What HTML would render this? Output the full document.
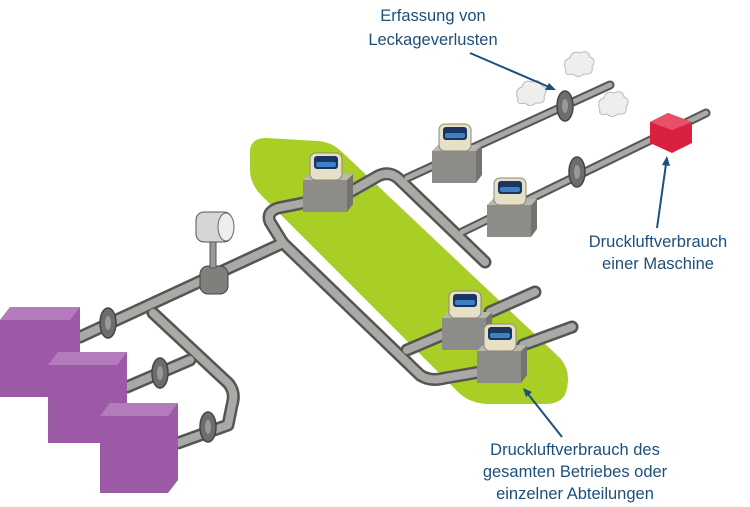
<!DOCTYPE html>
<html><head><meta charset="utf-8"><style>
html,body{margin:0;padding:0;background:#fff;}
svg{display:block}
text{font-family:"Liberation Sans",sans-serif;fill:#1d4f7c;font-size:16.5px;text-anchor:middle}
</style></head><body>
<svg width="750" height="507" viewBox="0 0 750 507" xmlns="http://www.w3.org/2000/svg">
<defs>
<g id="m">
  <rect x="0" y="28" width="44" height="32" fill="#8d8c88"/>
  <polygon points="44,28 50,22 50,52 44,60" fill="#74736e"/>
  <polygon points="0,28 6,22 50,22 44,28" fill="#b9b7ae"/>
  <rect x="7" y="1" width="32" height="27" rx="6" fill="#e6e0c6" stroke="#8a8878"/>
  <rect x="11" y="4" width="24" height="13" rx="3" fill="#1a355e"/>
  <rect x="13" y="10" width="20" height="5" rx="2" fill="#3f7fc6"/>
</g>
<g id="f"><ellipse cx="0" cy="0" rx="8" ry="15" fill="#6d6d70" stroke="#444" stroke-width="1.5"/><ellipse cx="0" cy="0" rx="3" ry="7" fill="#999"/></g>
<g id="c"><path d="M-12,4 q-4,-10 4,-12 q2,-8 10,-5 q8,-4 10,4 q7,3 2,10 q2,8 -8,7 q-6,5 -11,0 q-9,2 -7,-4z" fill="#eee" stroke="#bbb"/></g>
</defs>
<path d="M250,152 Q250,138 266,138 L318,141 Q332,142 342,152 L560,358 Q572,372 566,392 Q562,404 545,404 L490,404 Q470,404 458,392 L262,196 Q250,184 250,170 Z" fill="#a9cf26"/>
<g fill="none" stroke-linecap="round" stroke-linejoin="round">
<g stroke="#555" stroke-width="13">
<path d="M80,337 L283,243"/>
<path d="M153,313 L228,383 Q236,392 232,405 L228,425 L178,443"/>
<path d="M127,387 L190,360"/>
<path d="M283,243 L270,222 Q266,212 278,208 L308,202"/>
<path d="M350,192 L378,176 Q390,170 400,180 L485,262"/>
<path d="M283,243 L420,375 Q430,382 445,378 L480,372"/>
<path d="M407,350 L447,333"/>
<path d="M490,312 L535,292"/>
<path d="M523,345 L572,327"/>
</g>
<g stroke="#555" stroke-width="9">
<path d="M407,178 L610,85"/>
<path d="M462,232 L706,113"/>
</g>
<g stroke="#a9a9a6" stroke-width="8">
<path d="M80,337 L283,243"/>
<path d="M153,313 L228,383 Q236,392 232,405 L228,425 L178,443"/>
<path d="M127,387 L190,360"/>
<path d="M283,243 L270,222 Q266,212 278,208 L308,202"/>
<path d="M350,192 L378,176 Q390,170 400,180 L485,262"/>
<path d="M283,243 L420,375 Q430,382 445,378 L480,372"/>
<path d="M407,350 L447,333"/>
<path d="M490,312 L535,292"/>
<path d="M523,345 L572,327"/>
</g>
<g stroke="#a9a9a6" stroke-width="5">
<path d="M407,178 L610,85"/>
<path d="M462,232 L706,113"/>
</g>
</g>
<use href="#f" x="108" y="323"/>
<use href="#f" x="160" y="373"/>
<use href="#f" x="208" y="427"/>
<use href="#f" x="565" y="106"/>
<use href="#f" x="577" y="172"/>
<rect x="200" y="266" width="28" height="28" rx="8" fill="#807f7b" stroke="#444"/>
<rect x="210" y="236" width="6" height="32" fill="#999" stroke="#555"/>
<rect x="196" y="212" width="36" height="30" rx="8" fill="#d5d5d5" stroke="#555"/>
<ellipse cx="226" cy="227" rx="8" ry="14" fill="#eee" stroke="#666"/>
<g>
<polygon points="0,320 10,307 80,307 80,385 70,397 0,397" fill="#9c5aa6"/>
<polygon points="0,320 10,307 80,307 70,320" fill="#b57cbd"/>
<polygon points="48,365 58,352 127,352 127,430 117,443 48,443" fill="#9c5aa6"/>
<polygon points="48,365 58,352 127,352 117,365" fill="#b57cbd"/>
<polygon points="100,416 110,403 178,403 178,480 168,493 100,493" fill="#9c5aa6"/>
<polygon points="100,416 110,403 178,403 168,416" fill="#b57cbd"/>
</g>
<use href="#m" x="303" y="152"/>
<use href="#m" x="432" y="123"/>
<use href="#m" x="487" y="177"/>
<use href="#m" x="442" y="290"/>
<use href="#m" x="477" y="323"/>
<polygon points="650,122 668,113 692,122 692,143 672,153 650,143" fill="#d8213f"/>
<polygon points="650,122 668,113 692,122 672,130" fill="#e8506a"/>
<use href="#c" x="530" y="95"/>
<use href="#c" x="578" y="66"/>
<use href="#c" x="612" y="106"/>
<g stroke="#1d4f7c" stroke-width="2" fill="#1d4f7c">
<line x1="470" y1="53" x2="549" y2="87"/><polygon points="556,90 545,90 549,83" stroke="none"/>
<line x1="657" y1="228" x2="666" y2="164"/><polygon points="667,156 670,166 662,165" stroke="none"/>
<line x1="562" y1="437" x2="528" y2="394"/><polygon points="523,388 532,392 526,397" stroke="none"/>
</g>
<text x="433" y="21">Erfassung von</text>
<text x="433" y="45">Leckageverlusten</text>
<text x="658" y="247">Druckluftverbrauch</text>
<text x="658" y="269">einer Maschine</text>
<text x="575" y="455">Druckluftverbrauch des</text>
<text x="575" y="477">gesamten Betriebes oder</text>
<text x="575" y="499">einzelner Abteilungen</text>
</svg>
</body></html>
